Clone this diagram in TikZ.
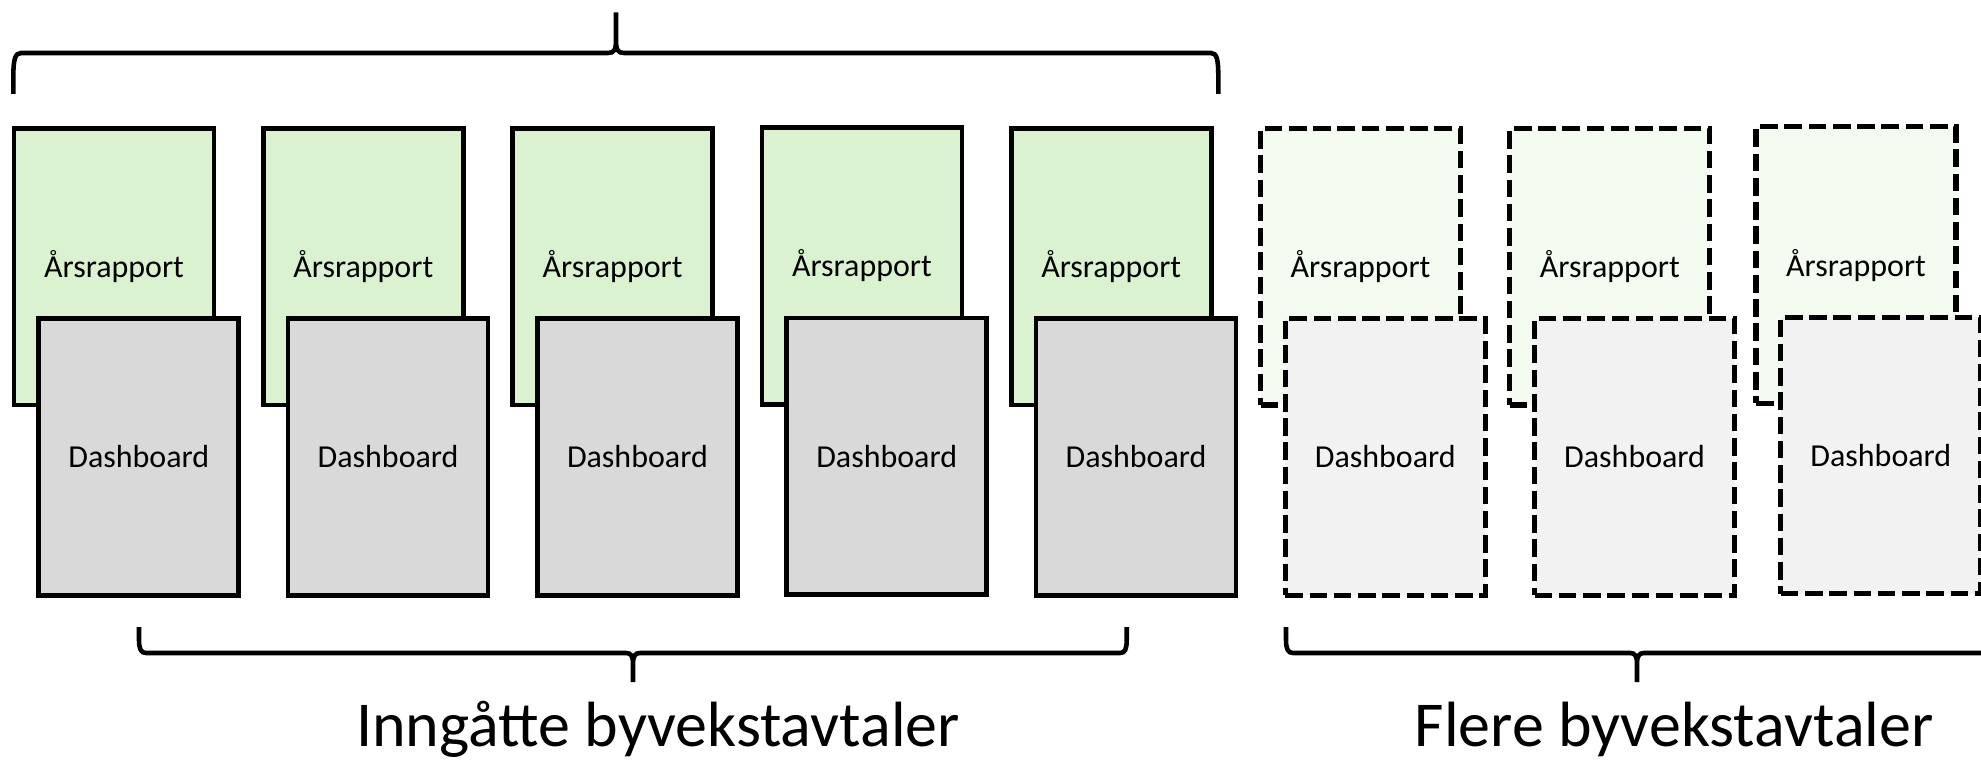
\documentclass[tikz,border=0pt]{standalone}
\usepackage{fontspec}
\setmainfont{Carlito}
\usetikzlibrary{calc}
\definecolor{arsgreen}{HTML}{DAF2D0}
\definecolor{arsgreenlight}{HTML}{F4FBF1}
\definecolor{dashgray}{HTML}{D9D9D9}
\definecolor{dashgraylight}{HTML}{F2F2F2}
\newcommand{\cardfont}{\fontsize{9.1pt}{11pt}\selectfont}
\newcommand{\groupfont}{\fontsize{18.2pt}{22pt}\selectfont}
\tikzset{
  card/.style={draw,line width=1.35pt,minimum width=2cm,minimum height=2.765cm,inner sep=0pt,font=\cardfont},
  arsbox/.style={card,fill=arsgreen},
  dashbox/.style={card,fill=dashgray},
  planned/.style={line width=1.45pt,dash pattern=on 5pt off 1.9pt},
  arsplanned/.style={card,planned,fill=arsgreenlight},
  dashplanned/.style={card,planned,fill=dashgraylight},
  brace/.style={line width=1.3pt}
}

\begin{document}
\begin{tikzpicture}
  \useasboundingbox (0,0) rectangle (19.81,-7.6);

  % Inngaatte avtaler
  \node[arsbox] (ars1) at (1.14,-2.6675) {Årsrapport};
  \node[dashbox] (dash1) at ($(ars1)+(0.248,-1.902)$) {Dashboard};
  \node[arsbox] (ars2) at (3.633,-2.6675) {Årsrapport};
  \node[dashbox] (dash2) at ($(ars2)+(0.248,-1.902)$) {Dashboard};
  \node[arsbox] (ars3) at (6.126,-2.6675) {Årsrapport};
  \node[dashbox] (dash3) at ($(ars3)+(0.248,-1.902)$) {Dashboard};
  \node[arsbox] (ars4) at (8.619,-2.66) {Årsrapport};
  \node[dashbox] (dash4) at ($(ars4)+(0.248,-1.902)$) {Dashboard};
  \node[arsbox] (ars5) at (11.112,-2.6675) {Årsrapport};
  \node[dashbox] (dash5) at ($(ars5)+(0.248,-1.902)$) {Dashboard};

  % Flere avtaler
  \node[arsplanned] (ars6) at (13.605,-2.6675) {Årsrapport};
  \node[dashplanned] (dash6) at ($(ars6)+(0.248,-1.902)$) {Dashboard};
  \node[arsplanned] (ars7) at (16.098,-2.6675) {Årsrapport};
  \node[dashplanned] (dash7) at ($(ars7)+(0.248,-1.902)$) {Dashboard};
  \node[arsplanned] (ars8) at (18.56,-2.652) {Årsrapport};
  \node[dashplanned] (dash8) at ($(ars8)+(0.248,-1.902)$) {Dashboard};

  % Braces
  \draw[brace] (0.133,-0.94) -- (0.133,-0.77) .. controls (0.133,-0.60) and (0.15,-0.53) .. (0.21,-0.53)
    -- (6.08,-0.53) .. controls (6.14,-0.53) and (6.16,-0.50) .. (6.16,-0.40) -- (6.16,-0.125)
    (6.16,-0.40) .. controls (6.16,-0.50) and (6.18,-0.53) .. (6.24,-0.53)
    -- (12.11,-0.53) .. controls (12.17,-0.53) and (12.183,-0.60) .. (12.183,-0.77) -- (12.183,-0.94);
  \draw[brace] (1.39,-6.27) -- (1.39,-6.40) .. controls (1.39,-6.49) and (1.41,-6.53) .. (1.46,-6.53)
    -- (6.26,-6.53) .. controls (6.31,-6.53) and (6.33,-6.56) .. (6.33,-6.64) -- (6.33,-6.82)
    (6.33,-6.64) .. controls (6.33,-6.56) and (6.35,-6.53) .. (6.40,-6.53)
    -- (11.20,-6.53) .. controls (11.25,-6.53) and (11.267,-6.49) .. (11.267,-6.40) -- (11.267,-6.27);
  \draw[brace] (12.86,-6.27) -- (12.86,-6.40) .. controls (12.86,-6.49) and (12.88,-6.53) .. (12.93,-6.53)
    -- (16.30,-6.53) .. controls (16.35,-6.53) and (16.37,-6.56) .. (16.37,-6.64) -- (16.37,-6.82)
    (16.37,-6.64) .. controls (16.37,-6.56) and (16.39,-6.53) .. (16.44,-6.53)
    -- (19.81,-6.53) .. controls (19.86,-6.53) and (19.88,-6.49) .. (19.88,-6.40) -- (19.88,-6.27);

  % Labels
  \node[font=\groupfont,anchor=base] (inngatte) at (6.58,-7.46) {Inngåtte byvekstavtaler};
  \node[font=\groupfont,anchor=base] (flere) at (16.74,-7.46) {Flere byvekstavtaler};
\end{tikzpicture}
\end{document}
